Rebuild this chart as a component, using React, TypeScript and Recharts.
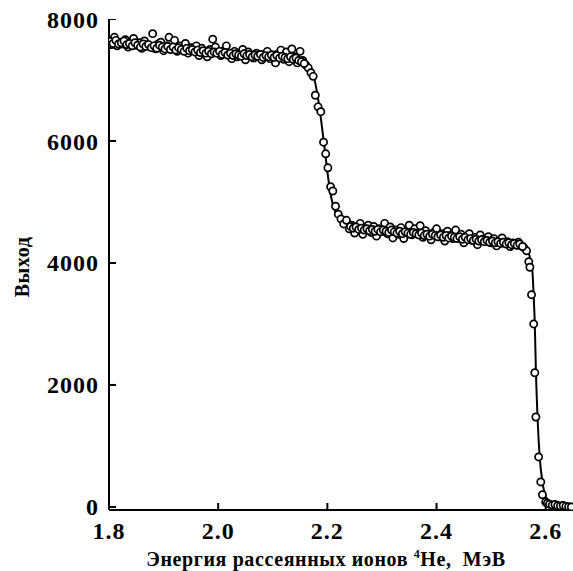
import React from 'react';
import { ComposedChart, Scatter, Line, XAxis, YAxis, Label } from 'recharts';

const energy = [
  1.800, 1.805, 1.810, 1.815, 1.820, 1.825, 1.830, 1.835, 1.840, 1.845,
  1.850, 1.855, 1.860, 1.865, 1.870, 1.875, 1.880, 1.885, 1.890, 1.895,
  1.900, 1.905, 1.910, 1.915, 1.920, 1.925, 1.930, 1.935, 1.940, 1.945,
  1.950, 1.955, 1.960, 1.965, 1.970, 1.975, 1.980, 1.985, 1.990, 1.995,
  2.000, 2.005, 2.010, 2.015, 2.020, 2.025, 2.030, 2.035, 2.040, 2.045,
  2.050, 2.055, 2.060, 2.065, 2.070, 2.075, 2.080, 2.085, 2.090, 2.095,
  2.100, 2.105, 2.110, 2.115, 2.120, 2.125, 2.130, 2.135, 2.140, 2.145,
  2.150, 2.155, 2.160, 2.165, 2.170, 2.174, 2.178, 2.183, 2.188, 2.193,
  2.197, 2.201, 2.206, 2.210, 2.215, 2.220, 2.225, 2.230, 2.235, 2.240,
  2.245, 2.250, 2.255, 2.260, 2.265, 2.270, 2.275, 2.280, 2.285, 2.290,
  2.295, 2.300, 2.305, 2.310, 2.315, 2.320, 2.325, 2.330, 2.335, 2.340,
  2.345, 2.350, 2.355, 2.360, 2.365, 2.370, 2.375, 2.380, 2.385, 2.390,
  2.395, 2.400, 2.405, 2.410, 2.415, 2.420, 2.425, 2.430, 2.435, 2.440,
  2.445, 2.450, 2.455, 2.460, 2.465, 2.470, 2.475, 2.480, 2.485, 2.490,
  2.495, 2.500, 2.505, 2.510, 2.515, 2.520, 2.525, 2.530, 2.535, 2.540,
  2.545, 2.550, 2.555, 2.560, 2.565, 2.569, 2.571, 2.574, 2.578, 2.580,
  2.582, 2.587, 2.591, 2.594, 2.600, 2.603, 2.607, 2.612, 2.617, 2.622,
  2.627, 2.632, 2.637, 2.642, 2.647,
];

const counts = [
  7640, 7580, 7700, 7560, 7620, 7590, 7660, 7540, 7600, 7680,
  7570, 7610, 7520, 7640, 7580, 7550, 7760, 7510, 7590, 7620,
  7480, 7560, 7700, 7530, 7650, 7470, 7560, 7510, 7600, 7440,
  7530, 7490, 7560, 7400, 7520, 7450, 7380, 7500, 7670, 7540,
  7460, 7400, 7480, 7560, 7420, 7350, 7470, 7380, 7430, 7500,
  7330, 7460, 7400, 7360, 7440, 7390, 7330, 7420, 7470, 7350,
  7410, 7280, 7430, 7490, 7340, 7460, 7300, 7510, 7380, 7280,
  7470, 7320, 7250, 7200, 7120, 7060, 6750, 6560, 6480, 5980,
  5790, 5560, 5250, 5180, 4930, 4800, 4720, 4640, 4700, 4560,
  4620, 4490, 4580, 4650, 4470, 4560, 4620, 4500, 4600, 4440,
  4560, 4520, 4650, 4480, 4590, 4410, 4540, 4470, 4580, 4400,
  4510, 4620, 4460, 4560, 4490, 4610, 4420, 4530, 4460, 4380,
  4500, 4560, 4430, 4480, 4360, 4520, 4450, 4400, 4540, 4410,
  4470, 4330, 4440, 4480, 4370, 4420, 4300, 4460, 4390, 4350,
  4430, 4330, 4400, 4280, 4360, 4410, 4320, 4350, 4270, 4330,
  4300, 4340, 4280, 4250, 4200, 4020, 3930, 3480, 3000, 2200,
  1475, 820, 410, 200, 80, 60, 45, 30, 40, 20,
  15, 25, 10, 5, 0,
];

// second (interleaved) set of channels on the two plateaus, lying close to the fit
const energyB = [
  1.8025, 1.8075, 1.8125, 1.8175, 1.8225, 1.8275, 1.8325, 1.8375, 1.8425, 1.8475,
  1.8525, 1.8575, 1.8625, 1.8675, 1.8725, 1.8775, 1.8825, 1.8875, 1.8925, 1.8975,
  1.9025, 1.9075, 1.9125, 1.9175, 1.9225, 1.9275, 1.9325, 1.9375, 1.9425, 1.9475,
  1.9525, 1.9575, 1.9625, 1.9675, 1.9725, 1.9775, 1.9825, 1.9875, 1.9925, 1.9975,
  2.0025, 2.0075, 2.0125, 2.0175, 2.0225, 2.0275, 2.0325, 2.0375, 2.0425, 2.0475,
  2.0525, 2.0575, 2.0625, 2.0675, 2.0725, 2.0775, 2.0825, 2.0875, 2.0925, 2.0975,
  2.1025, 2.1075, 2.1125, 2.1175, 2.1225, 2.1275, 2.1325, 2.1375, 2.1425, 2.1475,
  2.1525, 2.1575,
  2.2425, 2.2475, 2.2525, 2.2575, 2.2625, 2.2675, 2.2725, 2.2775, 2.2825, 2.2875,
  2.2925, 2.2975, 2.3025, 2.3075, 2.3125, 2.3175, 2.3225, 2.3275, 2.3325, 2.3375,
  2.3425, 2.3475, 2.3525, 2.3575, 2.3625, 2.3675, 2.3725, 2.3775, 2.3825, 2.3875,
  2.3925, 2.3975, 2.4025, 2.4075, 2.4125, 2.4175, 2.4225, 2.4275, 2.4325, 2.4375,
  2.4425, 2.4475, 2.4525, 2.4575, 2.4625, 2.4675, 2.4725, 2.4775, 2.4825, 2.4875,
  2.4925, 2.4975, 2.5025, 2.5075, 2.5125, 2.5175, 2.5225, 2.5275, 2.5325, 2.5375,
  2.5425, 2.5475, 2.5525, 2.5575,
];

const countsB = [
  7630, 7600, 7650, 7590, 7610, 7640, 7580, 7600, 7560, 7610,
  7570, 7540, 7590, 7550, 7580, 7530, 7560, 7520, 7570, 7540,
  7510, 7550, 7500, 7540, 7490, 7530, 7500, 7470, 7520, 7480,
  7500, 7460, 7490, 7450, 7480, 7440, 7470, 7430, 7460, 7440,
  7470, 7420, 7450, 7410, 7440, 7400, 7430, 7410, 7390, 7430,
  7400, 7420, 7380, 7410, 7390, 7420, 7370, 7400, 7380, 7410,
  7370, 7400, 7360, 7390, 7370, 7350, 7380, 7340, 7360, 7320,
  7300, 7270,
  4600, 4570, 4590, 4550, 4570, 4540, 4560, 4530, 4550, 4520,
  4550, 4510, 4540, 4520, 4500, 4540, 4510, 4490, 4520, 4480,
  4510, 4490, 4470, 4500, 4480, 4460, 4490, 4450, 4470, 4440,
  4470, 4450, 4430, 4460, 4420, 4450, 4410, 4440, 4420, 4400,
  4430, 4390, 4420, 4380, 4400, 4370, 4390, 4360, 4380, 4350,
  4370, 4340, 4360, 4330, 4350, 4320, 4340, 4310, 4330, 4300,
  4320, 4290, 4310, 4270,
];

// fitted simulation curve
const fitEnergy = [
  1.80, 1.85, 1.90, 1.95, 2.00, 2.05, 2.10, 2.13, 2.15, 2.16,
  2.17, 2.175, 2.18, 2.185, 2.19, 2.195, 2.20, 2.205, 2.21, 2.215,
  2.22, 2.23, 2.24, 2.26, 2.30, 2.35, 2.40, 2.45, 2.50, 2.53,
  2.55, 2.56, 2.565, 2.57, 2.574, 2.576, 2.578, 2.58, 2.582, 2.585,
  2.589, 2.594, 2.60, 2.609, 2.62, 2.635, 2.65,
];

const fitCounts = [
  7620, 7570, 7530, 7490, 7450, 7420, 7400, 7380, 7340, 7290,
  7180, 7060, 6850, 6580, 6240, 5880, 5500, 5180, 4960, 4830,
  4740, 4650, 4610, 4560, 4530, 4490, 4450, 4410, 4360, 4330,
  4300, 4260, 4230, 4130, 3950, 3820, 3450, 3000, 2250, 1480,
  820, 410, 170, 65, 30, 12, 5,
];

const xTicks = [1.8, 2.0, 2.2, 2.4, 2.6];
const yTicks = [0, 2000, 4000, 6000, 8000];

const xDomain = [1.8, 2.65];
const yDomain = [-50, 8000];

const points = energy.map((e, i) => ({ e, y: counts[i] }));
const pointsB = energyB.map((e, i) => ({ e, y: countsB[i] }));
const fit = fitEnergy.map((e, i) => ({ e, y: fitCounts[i] }));

// inward tick marks sit on the axes, so place them through the same scales
const xTickMarks = xTicks.map((t) => ({ e: t, y: yDomain[0] }));
const yTickMarks = yTicks.map((t) => ({ e: xDomain[0], y: t }));

const serif = '"Liberation Serif", "DejaVu Serif", serif';

const Circle = (props: any) => {
  const { cx, cy } = props;
  if (cx == null || cy == null) return null;
  return <circle cx={cx} cy={cy} r={3.6} fill="#fff" stroke="#000" strokeWidth={1.7} />;
};

const UpTick = (props: any) => {
  const { cx, cy } = props;
  if (cx == null || cy == null) return null;
  return <line x1={cx} x2={cx} y1={cy} y2={cy - 7} stroke="#000" strokeWidth={2} />;
};

const RightTick = (props: any) => {
  const { cx, cy } = props;
  if (cx == null || cy == null) return null;
  return <line x1={cx} x2={cx + 7} y1={cy} y2={cy} stroke="#000" strokeWidth={2} />;
};

const XTitle = (props: any) => {
  const vb = props.viewBox || { x: 109, y: 510, width: 464 };
  return (
    <text
      x={vb.x + vb.width / 2 - 15}
      y={vb.y + 56}
      textAnchor="middle"
      fontSize={20}
      fontWeight={700}
      fontFamily={serif}
      letterSpacing={0.6}
      fill="#000"
    >
      Энергия рассеянных ионов{' '}
      <tspan fontSize={12} dy={-8}>4</tspan>
      <tspan dy={8}>He,{'\u00A0'} МэВ</tspan>
    </text>
  );
};

const YTitle = () => (
  <text
    x={22}
    y={274}
    transform="rotate(-90 22 267)"
    textAnchor="middle"
    fontSize={20}
    fontWeight={700}
    fontFamily={serif}
    letterSpacing={0.6}
    fill="#000"
  >
    Выход
  </text>
);

const tickFont = { fill: '#000', fontSize: 24, fontWeight: 700, fontFamily: serif, letterSpacing: 1 };

export default function App() {
  return (
    <div style={{ position: 'absolute', left: 0, top: 0, width: 573, height: 571, background: '#fff' }}>
      <ComposedChart width={573} height={571} margin={{ top: 19, right: 0, left: 0, bottom: 0 }}>
        <XAxis
          dataKey="e"
          type="number"
          domain={xDomain}
          ticks={xTicks}
          allowDataOverflow
          height={61}
          axisLine={{ stroke: '#000', strokeWidth: 2 }}
          tickLine={false}
          tickSize={2}
          tickMargin={10}
          tick={tickFont}
          tickFormatter={(v: number) => v.toFixed(1)}
          interval={0}
        >
          <Label content={XTitle} />
        </XAxis>
        <YAxis
          dataKey="y"
          type="number"
          domain={yDomain}
          ticks={yTicks}
          allowDataOverflow
          width={109}
          axisLine={{ stroke: '#000', strokeWidth: 2 }}
          tickLine={false}
          tickSize={2}
          tickMargin={8}
          tick={tickFont}
          interval={0}
        >
          <Label content={YTitle} />
        </YAxis>
        <Scatter name="a" data={points} dataKey="y" shape={Circle} isAnimationActive={false} />
        <Scatter name="b" data={pointsB} dataKey="y" shape={Circle} isAnimationActive={false} />
        <Line
          data={fit}
          dataKey="y"
          type="monotone"
          stroke="#000"
          strokeWidth={2}
          dot={false}
          activeDot={false}
          isAnimationActive={false}
        />
        <Scatter name="xticks" data={xTickMarks} dataKey="y" shape={UpTick} isAnimationActive={false} />
        <Scatter name="yticks" data={yTickMarks} dataKey="y" shape={RightTick} isAnimationActive={false} />
      </ComposedChart>
    </div>
  );
}
